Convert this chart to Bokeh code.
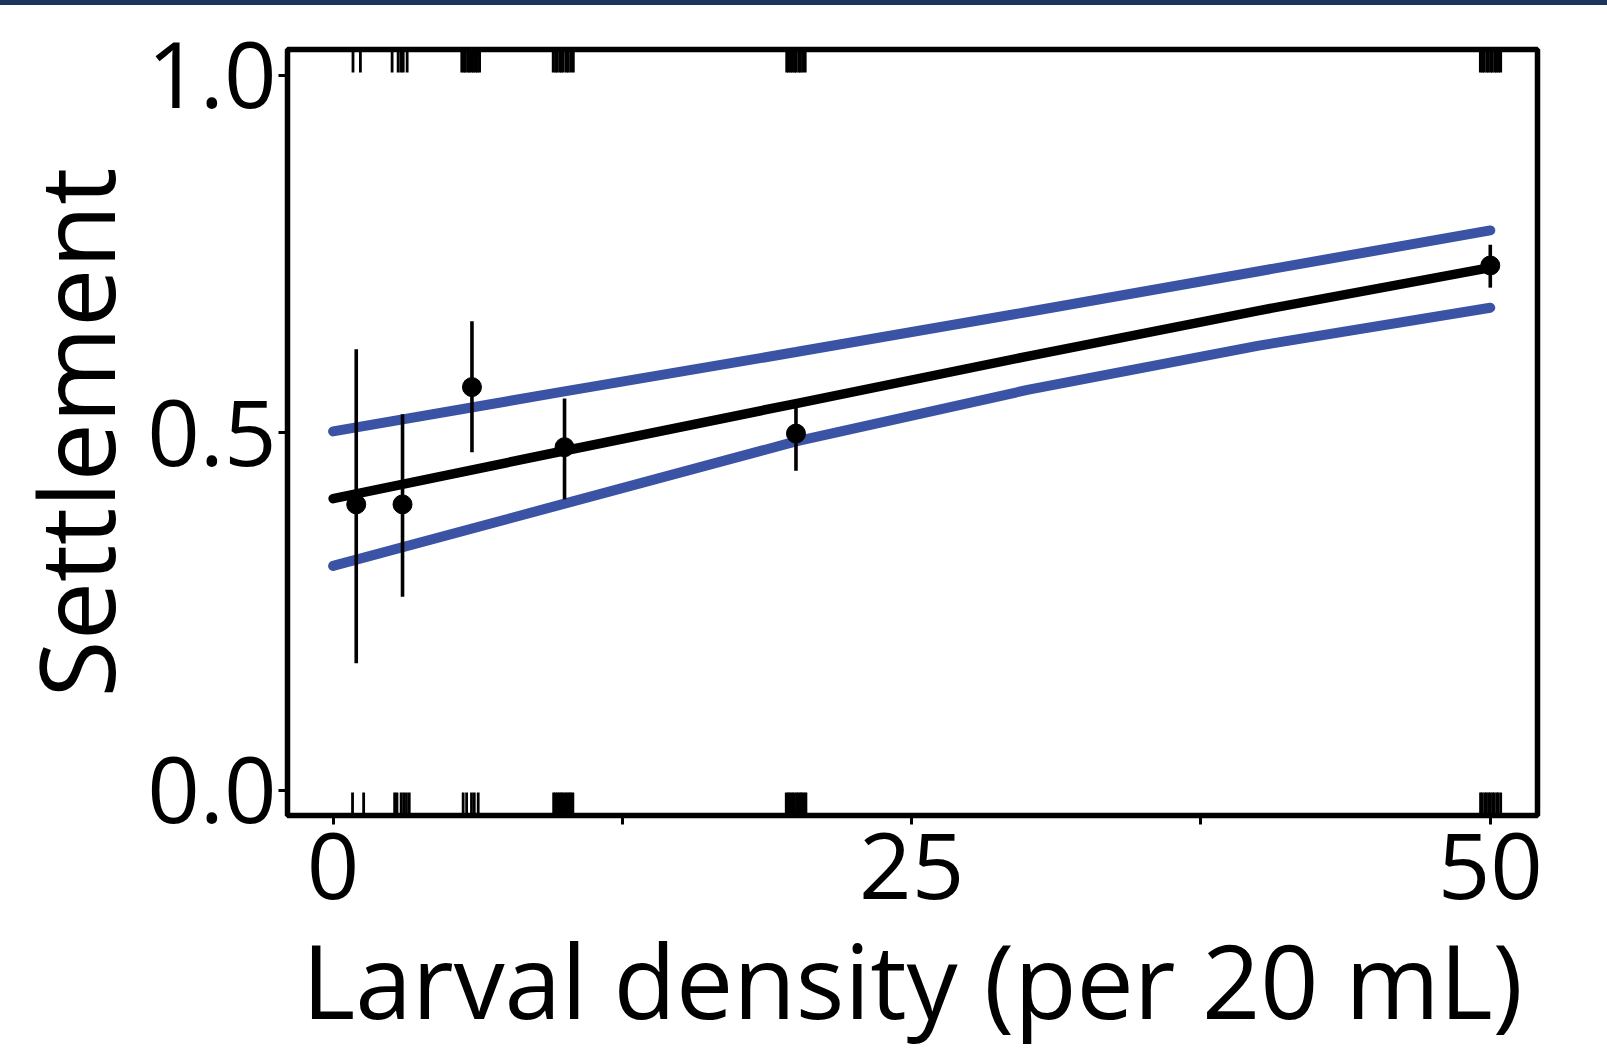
from bokeh.plotting import figure
from bokeh.layouts import column
from bokeh.models import Range1d, FixedTicker, PrintfTickFormatter, Title, Div
from bokeh.embed import file_html
from bokeh.resources import INLINE

# ---- data ----
density = [1, 3, 6, 10, 20, 50]
settle_mean = [0.400, 0.400, 0.564, 0.480, 0.499, 0.734]
settle_lo = [0.178, 0.271, 0.473, 0.407, 0.447, 0.703]
settle_hi = [0.617, 0.526, 0.656, 0.548, 0.537, 0.763]

fit_x = [0, 10, 20, 30, 40, 50]
fit_y = [0.408, 0.475, 0.541, 0.607, 0.671, 0.731]
ci_upper = [0.502, 0.558, 0.613, 0.669, 0.726, 0.783]
ci_lower = [0.314, 0.401, 0.488, 0.560, 0.622, 0.675]

# individual larvae (jittered density) that did not settle (rug at bottom)
rug_not_settled = [0.84, 1.32,
                   2.66, 2.76, 2.94, 3.05, 3.17, 3.29,
                   5.62, 5.77, 5.98, 6.10, 6.27,
                   9.53, 9.60, 9.69, 9.77, 9.86, 9.93, 10.03, 10.11, 10.20, 10.27, 10.36,
                   19.58, 19.67, 19.74, 19.84, 19.91, 20.02, 20.09, 20.19, 20.25, 20.35, 20.43,
                   49.58, 49.65, 49.76, 49.83, 49.93, 50.00, 50.10, 50.17, 50.28, 50.34, 50.45]
# individual larvae that settled (rug at top)
rug_settled = [0.86, 1.18,
               2.55, 2.81, 2.93, 3.03, 3.20,
               5.56, 5.65, 5.72, 5.83, 5.90, 6.00, 6.07, 6.17, 6.24, 6.33,
               9.51, 9.61, 9.68, 9.79, 9.86, 9.95, 10.08, 10.16, 10.27, 10.38,
               19.60, 19.68, 19.77, 19.85, 19.94, 20.01, 20.12, 20.19, 20.29, 20.40,
               49.57, 49.66, 49.74, 49.85, 49.92, 50.02, 50.09, 50.20, 50.27, 50.36, 50.45]

x_ticks = [0, 25, 50]
x_minor_ticks = [12.5, 37.5]
y_ticks = [0.0, 0.5, 1.0]

X_START, X_END = -1.97, 52.04
Y_START, Y_END = -0.035, 1.036
RUG_LEN = 0.032

FONT = "Open Sans"
BLUE = "#3A53A4"
NAVY = "#1B365D"

band = Div(text="", width=1607, height=5, margin=0,
           styles={"background-color": NAVY})

p = figure(width=1607, height=1054, output_backend="svg", toolbar_location=None,
           x_range=Range1d(X_START, X_END), y_range=Range1d(Y_START, Y_END),
           min_border_left=287, min_border_right=70,
           min_border_top=44, min_border_bottom=244, margin=0)

p.background_fill_color = "white"
p.border_fill_color = "white"
p.outline_line_color = "black"
p.outline_line_width = 5.5
p.xgrid.visible = False
p.ygrid.visible = False

# rugs
p.segment(x0=rug_not_settled, y0=[Y_START] * len(rug_not_settled),
          x1=rug_not_settled, y1=[Y_START + RUG_LEN] * len(rug_not_settled),
          line_color="black", line_width=2.8)
p.segment(x0=rug_settled, y0=[Y_END] * len(rug_settled),
          x1=rug_settled, y1=[Y_END - RUG_LEN] * len(rug_settled),
          line_color="black", line_width=2.8)

# fitted curve and confidence band
p.line(fit_x, ci_upper, line_color=BLUE, line_width=10, line_cap="round")
p.line(fit_x, ci_lower, line_color=BLUE, line_width=10, line_cap="round")
p.line(fit_x, fit_y, line_color="black", line_width=9.5, line_cap="round")

# means with error bars
p.segment(x0=density, y0=settle_lo, x1=density, y1=settle_hi,
          line_color="black", line_width=3.6)
p.scatter(density, settle_mean, size=19, color="black")

# axes
for ax in (p.xaxis[0], p.yaxis[0]):
    ax.axis_line_color = None
    ax.major_tick_in = 0
    ax.major_tick_out = 9
    ax.major_tick_line_width = 3
    ax.minor_tick_in = 0
    ax.minor_tick_out = 9
    ax.minor_tick_line_width = 3
    ax.major_label_text_font = FONT
    ax.major_label_text_font_size = "92px"
    ax.major_label_text_color = "black"
    ax.axis_label_text_font = FONT
    ax.axis_label_text_font_style = "normal"
    ax.axis_label_text_color = "black"

p.xaxis.axis_label_text_font_size = "102px"
p.xaxis.ticker = FixedTicker(ticks=x_ticks, minor_ticks=x_minor_ticks)
p.yaxis.ticker = FixedTicker(ticks=y_ticks, minor_ticks=[])
p.yaxis.formatter = PrintfTickFormatter(format="%.1f")
p.xaxis.axis_label = "Larval density (per 20 mL)"
p.xaxis.major_label_standoff = 8
p.yaxis.major_label_standoff = 2
p.xaxis.axis_label_standoff = 8

# y-axis title as a side title on the left of the y axis
ytitle = Title(text="Settlement", align="center", standoff=0,
               text_font=FONT, text_font_size="104px", text_font_style="normal",
               text_color="black")
p.add_layout(ytitle, "left")

layout = column(band, p, spacing=0, margin=0)

open("out.html", "w").write(file_html(layout, INLINE))
